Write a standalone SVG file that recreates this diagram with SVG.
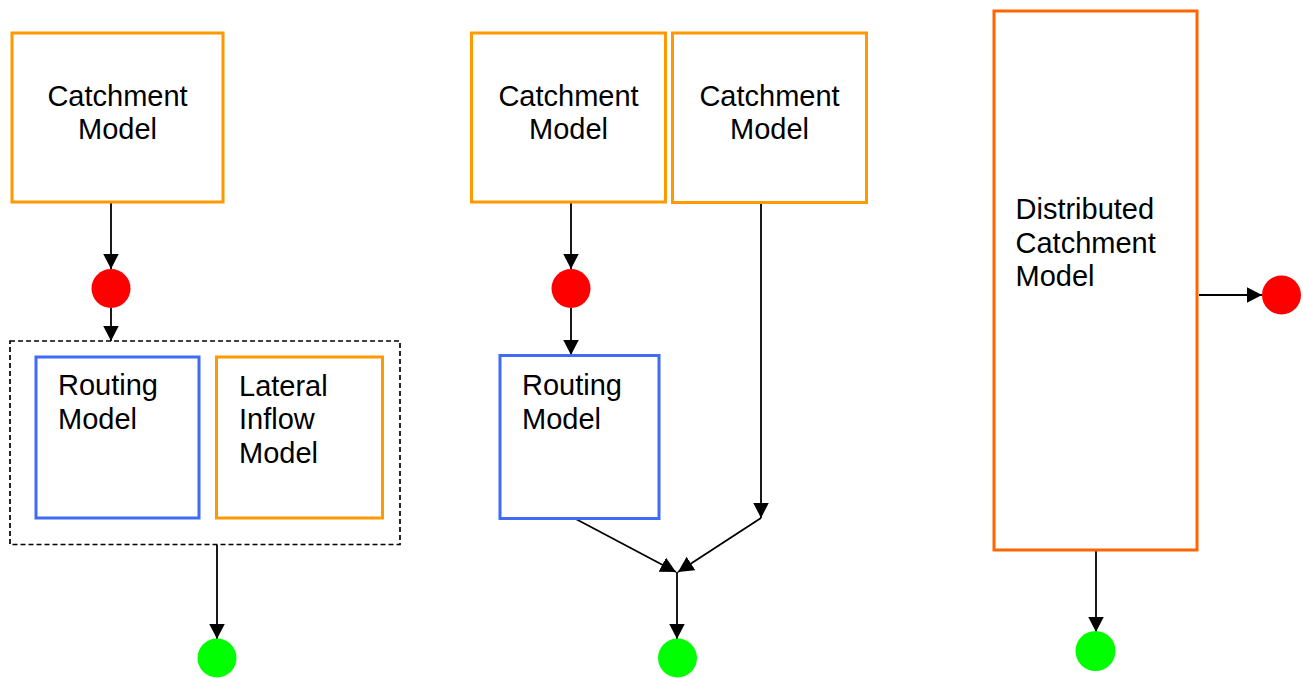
<svg xmlns="http://www.w3.org/2000/svg" width="1303" height="678" viewBox="0 0 1303 678">
  <style>
    .label { font-family: "Liberation Sans", Arial, Helvetica, sans-serif; font-size: 29px; fill: #000; }
    .mid { text-anchor: middle; }
    .box-orange { fill: #fff; stroke: #FF9900; stroke-width: 3; }
    .box-red-orange { fill: #fff; stroke: #FF6600; stroke-width: 3; }
    .box-blue { fill: #fff; stroke: #3F6BF5; stroke-width: 3; }
    .group-box { fill: none; stroke: #000; stroke-width: 1.7; stroke-dasharray: 5 3; }
    .link { fill: none; stroke: #000; stroke-width: 1.8; }
    .arrow { marker-end: url(#head); }
    .source { fill: #FF0000; }
    .sink { fill: #00FF00; }
  </style>
  <defs>
    <marker id="head" markerUnits="userSpaceOnUse" markerWidth="17" markerHeight="17" viewBox="0 0 17 17" refX="15.5" refY="8" orient="auto">
      <path d="M0,0 L15.5,8 L0,16 Z" fill="#000"/>
    </marker>
  </defs>

  <rect id="white-bg" x="0" y="0" width="1303" height="678" fill="#fff"/>

  <!-- Connectors -->
  <g id="connectors">
    <!-- left configuration -->
    <line class="link arrow" x1="111" y1="203" x2="111" y2="269"/>
    <line class="link arrow" x1="111" y1="308" x2="111" y2="341"/>
    <line class="link arrow" x1="217" y1="545" x2="217" y2="639"/>
    <!-- middle configuration -->
    <line class="link arrow" x1="571" y1="203" x2="571" y2="269"/>
    <line class="link arrow" x1="571" y1="308" x2="571" y2="355"/>
    <line class="link arrow" x1="761" y1="203" x2="761" y2="518"/>
    <line class="link arrow" x1="574" y1="518" x2="676" y2="572"/>
    <line class="link arrow" x1="761" y1="518" x2="678" y2="572"/>
    <line class="link arrow" x1="677" y1="572" x2="677" y2="639"/>
    <!-- right configuration -->
    <line class="link arrow" x1="1199" y1="295" x2="1262" y2="295"/>
    <line class="link arrow" x1="1096" y1="551" x2="1096" y2="632"/>
  </g>

  <!-- Left: lumped catchment with routing and lateral inflow -->
  <g id="catchment-left">
    <rect class="box-orange" x="12" y="33" width="211" height="169"/>
    <text class="label mid" x="117.5" y="106">Catchment</text>
    <text class="label mid" x="117.5" y="139">Model</text>
  </g>
  <g id="source-left">
    <circle class="source" cx="111" cy="288.5" r="19.5"/>
  </g>
  <g id="river-group-left">
    <rect class="group-box" x="10" y="341" width="390" height="203.5"/>
  </g>
  <g id="routing-left">
    <rect class="box-blue" x="36" y="357" width="163" height="161"/>
    <text class="label" x="58" y="395">Routing</text>
    <text class="label" x="58" y="429">Model</text>
  </g>
  <g id="lateral-inflow">
    <rect class="box-orange" x="216.5" y="357" width="166" height="161"/>
    <text class="label" x="239" y="396">Lateral</text>
    <text class="label" x="239" y="429">Inflow</text>
    <text class="label" x="239" y="462.5">Model</text>
  </g>
  <g id="sink-left">
    <circle class="sink" cx="217" cy="658" r="19.5"/>
  </g>

  <!-- Middle: two catchments merging downstream -->
  <g id="catchment-mid-a">
    <rect class="box-orange" x="471.5" y="33" width="194" height="169"/>
    <text class="label mid" x="568.5" y="106">Catchment</text>
    <text class="label mid" x="568.5" y="139">Model</text>
  </g>
  <g id="catchment-mid-b">
    <rect class="box-orange" x="672.5" y="33" width="194" height="169.5"/>
    <text class="label mid" x="769.5" y="106">Catchment</text>
    <text class="label mid" x="769.5" y="139">Model</text>
  </g>
  <g id="source-mid">
    <circle class="source" cx="571" cy="288.5" r="19.5"/>
  </g>
  <g id="routing-mid">
    <rect class="box-blue" x="500" y="355.5" width="159" height="163"/>
    <text class="label" x="522" y="395">Routing</text>
    <text class="label" x="522" y="429">Model</text>
  </g>
  <g id="sink-mid">
    <circle class="sink" cx="677.5" cy="658" r="19.5"/>
  </g>

  <!-- Right: distributed catchment -->
  <g id="distributed-catchment">
    <rect class="box-red-orange" x="994" y="11" width="203" height="539"/>
    <text class="label" x="1015.5" y="219">Distributed</text>
    <text class="label" x="1015.5" y="252.5">Catchment</text>
    <text class="label" x="1015.5" y="286">Model</text>
  </g>
  <g id="source-right">
    <circle class="source" cx="1281.5" cy="295" r="19.5"/>
  </g>
  <g id="sink-right">
    <circle class="sink" cx="1095.5" cy="651" r="20"/>
  </g>
</svg>
